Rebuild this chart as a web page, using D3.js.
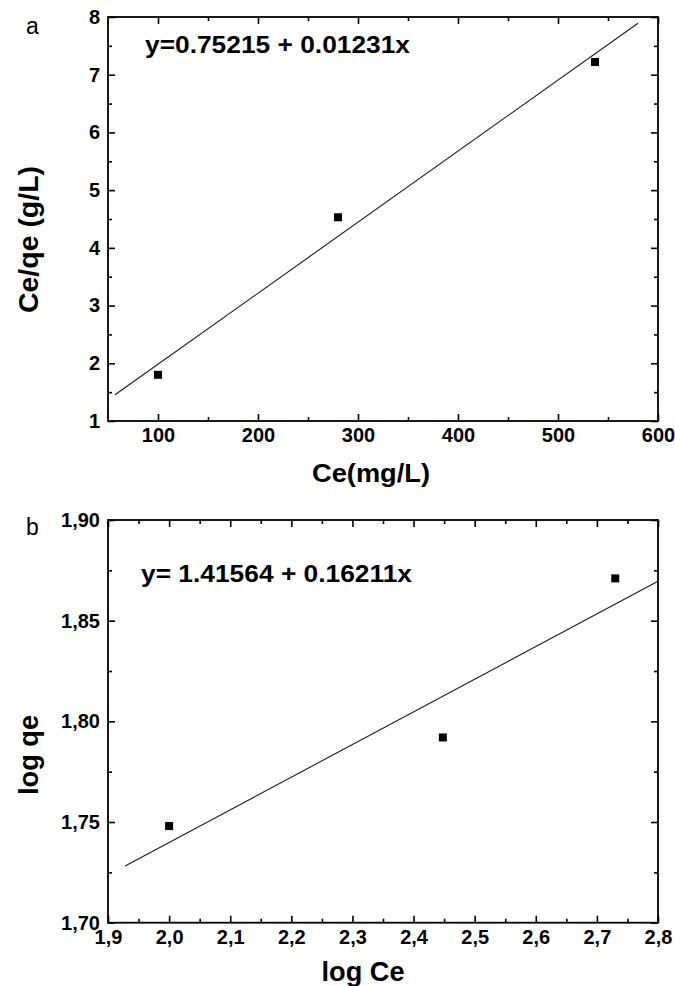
<!DOCTYPE html>
<html>
<head>
<meta charset="utf-8">
<script src="https://cdn.jsdelivr.net/npm/d3@7"></script>
<style>
  body { margin: 0; background: #fff; }
  svg { display: block; }
</style>
</head>
<body>
<svg id="chart" width="675" height="986"></svg>
<script>
// Panel a: Langmuir linear form, Ce/qe against Ce
const ceMgL = [100, 280, 537];
const ceOverQe = [1.80, 4.53, 7.22];
const langmuirFit = [0.75215, 0.01231];        // intercept, slope
const langmuirFitSpan = [57, 580];
const langmuirXTicks = [100, 200, 300, 400, 500, 600];
const langmuirXMinor = [150, 250, 350, 450, 550];
const langmuirYTicks = [1, 2, 3, 4, 5, 6, 7, 8];
const langmuirYMinor = [1.5, 2.5, 3.5, 4.5, 5.5, 6.5, 7.5];

// Panel b: Freundlich linear form, log qe against log Ce
const logCe = [2.0, 2.448, 2.73];
const logQe = [1.748, 1.792, 1.871];
const freundlichFit = [1.41564, 0.16211];      // intercept, slope
const freundlichFitSpan = [1.928, 2.8];
const freundlichXTicks = [1.9, 2.0, 2.1, 2.2, 2.3, 2.4, 2.5, 2.6, 2.7, 2.8];
const freundlichXMinor = [1.95, 2.05, 2.15, 2.25, 2.35, 2.45, 2.55, 2.65, 2.75];
const freundlichYTicks = [1.70, 1.75, 1.80, 1.85, 1.90];
const freundlichYMinor = [1.725, 1.775, 1.825, 1.875];

const FONT = '"Liberation Sans", Arial, Helvetica, sans-serif';
const svg = d3.select("#chart");

// decimal comma for the log panel
const commaLocale = d3.formatLocale({ decimal: ",", thousands: ".", grouping: [3], currency: ["", ""] });

function drawPanel(p) {
  const x = d3.scaleLinear().domain(p.xDomain).range([108, 658]);
  const y = d3.scaleLinear().domain(p.yDomain).range([p.bottom, p.top]);
  const g = svg.append("g");

  function addAxis(axis, transform, keepLabels) {
    const a = g.append("g").attr("transform", transform).call(axis);
    a.select(".domain").remove();
    a.selectAll(".tick line").attr("stroke", "#000").attr("stroke-width", 1.6);
    if (keepLabels) {
      a.selectAll(".tick text")
        .attr("fill", "#000")
        .attr("font-family", FONT)
        .attr("font-weight", "bold")
        .attr("font-size", 20);
    } else {
      a.selectAll(".tick text").remove();
    }
  }

  // bottom and left: labelled majors plus minors, ticks pointing inward
  addAxis(d3.axisBottom(x).tickValues(p.xTicks).tickSize(-7).tickPadding(7).tickFormat(p.xFmt),
          `translate(0,${p.bottom})`, true);
  addAxis(d3.axisBottom(x).tickValues(p.xMinor).tickSize(-4), `translate(0,${p.bottom})`, false);
  addAxis(d3.axisLeft(y).tickValues(p.yTicks).tickSize(-7).tickPadding(8).tickFormat(p.yFmt),
          `translate(108,0)`, true);
  addAxis(d3.axisLeft(y).tickValues(p.yMinor).tickSize(-4), `translate(108,0)`, false);

  // mirrored ticks on the top and right edges
  addAxis(d3.axisTop(x).tickValues(p.xTicks).tickSize(-7), `translate(0,${p.top})`, false);
  addAxis(d3.axisTop(x).tickValues(p.xMinor).tickSize(-4), `translate(0,${p.top})`, false);
  addAxis(d3.axisRight(y).tickValues(p.yTicks).tickSize(-7), `translate(658,0)`, false);
  addAxis(d3.axisRight(y).tickValues(p.yMinor).tickSize(-4), `translate(658,0)`, false);

  // frame
  g.append("rect")
    .attr("x", x.range()[0]).attr("y", p.top)
    .attr("width", x.range()[1] - x.range()[0])
    .attr("height", p.bottom - p.top)
    .attr("fill", "none").attr("stroke", "#000").attr("stroke-width", 1.8);

  // fitted straight line from the stated coefficients
  const [b0, b1] = p.fit;
  const fitLine = d3.line().x(d => x(d)).y(d => y(b0 + b1 * d));
  g.append("path")
    .datum(p.fitSpan)
    .attr("d", fitLine)
    .attr("fill", "none")
    .attr("stroke", "#1a1a1a")
    .attr("stroke-width", 1.1);

  // measured points
  const s = 8;
  g.selectAll("rect.pt")
    .data(p.xs.map((v, i) => [v, p.ys[i]]))
    .join("rect")
    .attr("class", "pt")
    .attr("x", d => x(d[0]) - s / 2)
    .attr("y", d => y(d[1]) - s / 2)
    .attr("width", s).attr("height", s)
    .attr("fill", "#000");

  // regression equation
  g.append("text")
    .attr("x", p.eq.x).attr("y", p.eq.y)
    .attr("font-family", FONT).attr("font-weight", "bold").attr("font-size", 23.5)
    .attr("textLength", p.eq.len).attr("lengthAdjust", "spacingAndGlyphs")
    .text(p.eq.text);

  // axis titles
  g.append("text")
    .attr("x", p.xTitle.x).attr("y", p.xTitle.y)
    .attr("text-anchor", "middle")
    .attr("font-family", FONT).attr("font-weight", "bold").attr("font-size", p.xTitle.size)
    .attr("textLength", p.xTitle.len).attr("lengthAdjust", "spacingAndGlyphs")
    .text(p.xTitle.text);

  g.append("text")
    .attr("transform", `translate(${p.yTitle.x},${p.yTitle.y}) rotate(-90)`)
    .attr("text-anchor", "middle")
    .attr("font-family", FONT).attr("font-weight", "bold").attr("font-size", 27)
    .attr("textLength", p.yTitle.len).attr("lengthAdjust", "spacingAndGlyphs")
    .text(p.yTitle.text);

  // panel letter
  g.append("text")
    .attr("x", 26).attr("y", p.letterY)
    .attr("font-family", FONT).attr("font-size", 23)
    .text(p.letter);
}

drawPanel({
  letter: "a", letterY: 34,
  top: 17, bottom: 421,
  xDomain: [50, 600], yDomain: [1, 8],
  xTicks: langmuirXTicks, xMinor: langmuirXMinor,
  yTicks: langmuirYTicks, yMinor: langmuirYMinor,
  xFmt: d3.format("d"), yFmt: d3.format("d"),
  xs: ceMgL, ys: ceOverQe,
  fit: langmuirFit, fitSpan: langmuirFitSpan,
  eq: { text: "y=0.75215 + 0.01231x", x: 145, y: 52.5, len: 265 },
  xTitle: { text: "Ce(mg/L)", x: 371, y: 481.5, size: 26, len: 118 },
  yTitle: { text: "Ce/qe (g/L)", x: 37.5, y: 239.5, len: 147 }
});

drawPanel({
  letter: "b", letterY: 535,
  top: 520, bottom: 922.7,
  xDomain: [1.9, 2.8], yDomain: [1.70, 1.90],
  xTicks: freundlichXTicks, xMinor: freundlichXMinor,
  yTicks: freundlichYTicks, yMinor: freundlichYMinor,
  xFmt: commaLocale.format(".1f"), yFmt: commaLocale.format(".2f"),
  xs: logCe, ys: logQe,
  fit: freundlichFit, fitSpan: freundlichFitSpan,
  eq: { text: "y= 1.41564 + 0.16211x", x: 141, y: 581.5, len: 271 },
  xTitle: { text: "log Ce", x: 363, y: 980.5, size: 27, len: 83 },
  yTitle: { text: "log qe", x: 37.5, y: 755, len: 80 }
});
</script>
</body>
</html>
